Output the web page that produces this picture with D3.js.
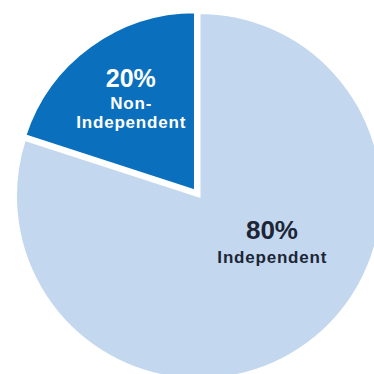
<!DOCTYPE html>
<html>
<head>
<meta charset="utf-8">
<script src="https://cdn.jsdelivr.net/npm/d3@7"></script>
<style>
  html, body { margin: 0; padding: 0; background: #ffffff; }
  svg { display: block; }
  text { font-family: "Liberation Sans", Arial, sans-serif; font-weight: bold; }
</style>
</head>
<body>
<svg id="chart" width="374" height="374"></svg>
<script>
// Share of directors, by category
const categories = ["Independent", "Non-Independent"];
const values = [80, 20];
const percentLabels = ["80%", "20%"];
const nameLines = [["Independent"], ["Non-", "Independent"]];
const colors = ["#c3d8ef", "#0a6fbd"];
const textColors = ["#1c2636", "#ffffff"];

// Layout
const W = 374, H = 374;
const cx = 199, cy = 196;
const radii = [183.5, 179.5];      // outer radius per slice
const explode = [0, 6];            // pull-out distance along slice mid-angle
// label anchors: radius and angle (degrees clockwise from 12 o'clock) from the slice apex
const labelPolar = [[86, 122], [110, 324]];
// baseline offsets of each label line relative to its anchor
const lineOffsets = [[-3, 21], [-15, 6.5, 26]];
const percentSize = [26, 25];

const svg = d3.select("#chart");
const g = svg.append("g").attr("transform", `translate(${cx},${cy})`);

const pie = d3.pie().sort(null).value(d => d.value);
const arcs = pie(categories.map((c, i) => ({ name: c, value: values[i], i })));

const slice = g.selectAll("g.slice")
  .data(arcs)
  .join("g")
  .attr("class", "slice")
  .attr("transform", d => {
    const mid = (d.startAngle + d.endAngle) / 2;
    const e = explode[d.data.i];
    return `translate(${Math.sin(mid) * e},${-Math.cos(mid) * e})`;
  });

slice.append("path")
  .attr("d", d => d3.arc().innerRadius(0).outerRadius(radii[d.data.i])(d))
  .attr("fill", d => colors[d.data.i])
  .attr("stroke", "#ffffff")
  .attr("stroke-width", 3)
  .attr("stroke-linejoin", "miter");

const label = slice.append("text")
  .attr("text-anchor", "middle")
  .attr("fill", d => textColors[d.data.i])
  .attr("transform", d => {
    const [r, a] = labelPolar[d.data.i];
    const t = a * Math.PI / 180;
    return `translate(${Math.sin(t) * r},${-Math.cos(t) * r})`;
  });

label.each(function(d) {
  const t = d3.select(this);
  const offs = lineOffsets[d.data.i];
  t.append("tspan")
    .attr("x", 0)
    .attr("y", offs[0])
    .style("font-size", percentSize[d.data.i] + "px")
    .text(percentLabels[d.data.i]);
  nameLines[d.data.i].forEach((ln, k) => {
    t.append("tspan")
      .attr("x", 0)
      .attr("y", offs[k + 1])
      .attr("dx", 0.35)
      .style("font-size", "17px")
      .style("letter-spacing", "0.8px")
      .text(ln);
  });
});
</script>
</body>
</html>
